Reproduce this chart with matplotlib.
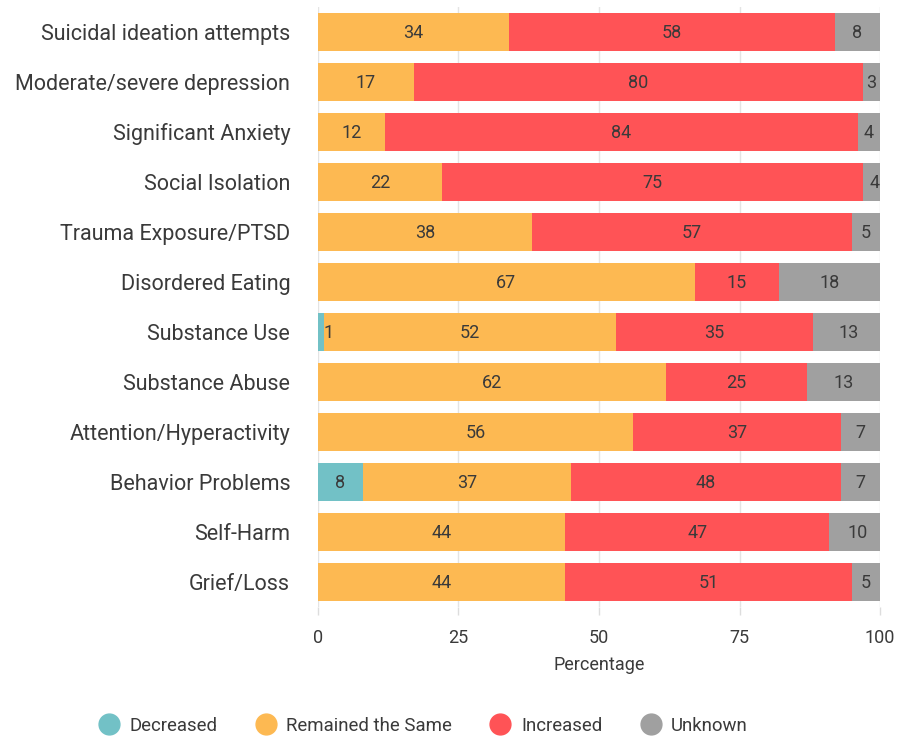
import numpy as np
import matplotlib.pyplot as plt
from matplotlib.lines import Line2D

plt.rcParams['font.family'] = ['Roboto', 'DejaVu Sans']

categories = [
    "Suicidal ideation attempts", "Moderate/severe depression", "Significant Anxiety",
    "Social Isolation", "Trauma Exposure/PTSD", "Disordered Eating", "Substance Use",
    "Substance Abuse", "Attention/Hyperactivity", "Behavior Problems", "Self-Harm", "Grief/Loss",
]
decreased = [0, 0, 0, 0, 0, 0, 1, 0, 0, 8, 0, 0]
same = [34, 17, 12, 22, 38, 67, 52, 62, 56, 37, 44, 44]
increased = [58, 80, 84, 75, 57, 15, 35, 25, 37, 48, 47, 51]
unknown = [8, 3, 4, 4, 5, 18, 13, 13, 7, 7, 10, 5]

series = [
    ("Decreased", decreased, "#72C1C6"),
    ("Remained the Same", same, "#FDB952"),
    ("Increased", increased, "#FF5356"),
    ("Unknown", unknown, "#A0A0A0"),
]

text_color = "#3a3a3a"

fig = plt.figure(figsize=(9, 7.36), dpi=100)
ax = fig.add_axes([0.3533, 0.1753, 0.6245, 0.8152])

y = np.arange(len(categories))
left = np.zeros(len(categories))
for name, vals, color in series:
    vals = np.array(vals, dtype=float)
    ax.barh(y, vals, left=left, height=0.76, color=color, zorder=2)
    for yi, (l, v) in enumerate(zip(left, vals)):
        if v > 0:
            cx = max(l + v / 2, 1.8)
            ax.text(cx, yi + 0.03, f"{int(v)}", ha="center", va="center",
                    fontsize=13, color=text_color, zorder=3)
    left += vals

ax.set_xlim(0, 100)
ax.set_ylim(len(categories) - 0.5, -0.5)
ax.set_yticks(y)
ax.set_yticklabels(categories, fontsize=15.5, color=text_color)
ax.set_xticks([0, 25, 50, 75, 100])
ax.tick_params(axis="y", length=0, pad=20)
ax.tick_params(axis="x", length=6, width=1, color="#dddddd", labelsize=13,
               labelcolor=text_color, pad=10)
ax.xaxis.grid(True, color="#e4e4e4", linewidth=1, zorder=0)
ax.set_axisbelow(True)
for s in ax.spines.values():
    s.set_visible(False)
ax.set_xlabel("Percentage", fontsize=13, color=text_color, labelpad=6)

handles = [Line2D([0], [0], marker="o", linestyle="", markersize=15,
                  markerfacecolor=c, markeredgecolor=c, label=n) for n, _, c in series]
fig.legend(handles=handles, loc="center", bbox_to_anchor=(0.4656, 0.014), ncol=4,
           frameon=False, fontsize=13.4, handletextpad=0.1, columnspacing=1.6,
           labelcolor=text_color)

fig.savefig("out.png", dpi=100)
